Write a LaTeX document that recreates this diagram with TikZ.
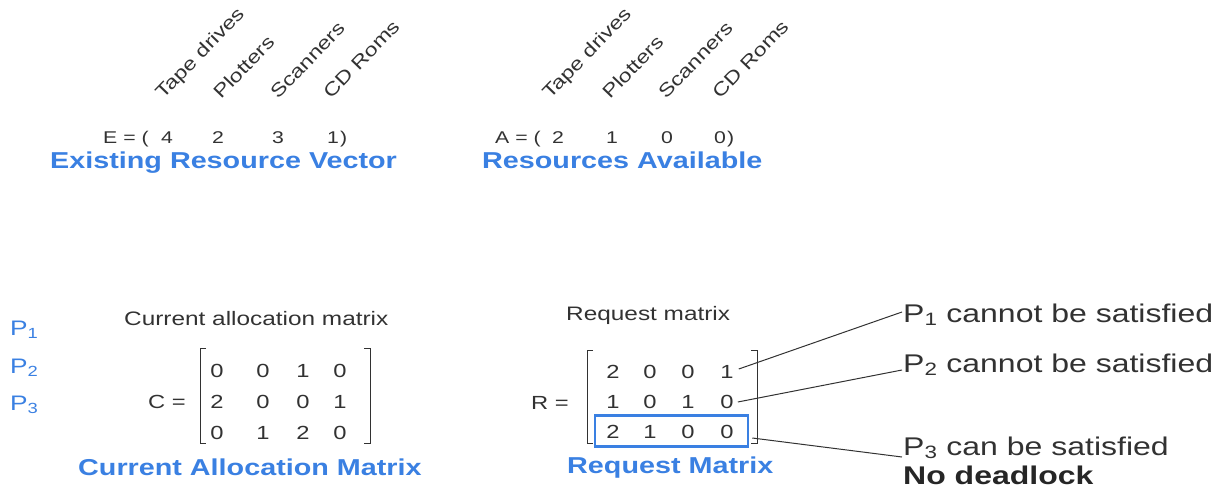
\documentclass[tikz,border=0pt]{standalone}
\usepackage{fontspec}
\setmainfont{Liberation Sans}[FakeStretch=1.25]
\usetikzlibrary{calc}
\definecolor{txtgray}{RGB}{50,50,50}
\definecolor{hiblue}{RGB}{58,128,226}
\newcommand{\fs}[1]{\fontsize{#1}{#1}\selectfont}
\tikzset{
  lbl/.style={inner sep=0pt, text=txtgray, font=\fs{18.5}, anchor=base west, rotate=46},
  vec/.style={inner sep=0pt, text=txtgray, font=\fs{17}, anchor=base},
  title/.style={inner sep=0pt, text=hiblue, font=\fs{23}\bfseries, anchor=base west},
  captxt/.style={inner sep=0pt, text=txtgray, font=\fs{19.5}, anchor=base west},
  ent/.style={inner sep=0pt, text=txtgray, font=\fs{19}, anchor=center},
  proc/.style={inner sep=0pt, text=hiblue, font=\fs{21}, anchor=base west},
  res/.style={inner sep=0pt, text=txtgray, font=\fs{25.6}, anchor=base west},
  brk/.style={draw=txtgray, line width=0.9pt},
  conn/.style={draw=txtgray, line width=1pt},
  hibox/.style={draw=hiblue, line width=2.6pt, minimum width=153pt, minimum height=31pt, inner sep=0pt}
}
\begin{document}
\begin{tikzpicture}[x=1pt,y=1pt]
\useasboundingbox (0,0) rectangle (1227,-498);
% ---------- Existing resource vector ----------
\node[lbl] (et) at (163,-100) {Tape drives};
\node[lbl] (ep) at (221,-100) {Plotters};
\node[lbl] (es) at (278,-100) {Scanners};
\node[lbl] (ec) at (331,-100) {CD Roms};
\node[vec, anchor=base west] (eeq) at (103,-143) {E = (};
\node[vec] (e1) at (167,-143) {4};
\node[vec] (e2) at (218,-143) {2};
\node[vec] (e3) at (278,-143) {3};
\node[vec] (e4) at (333,-143) {1};
\node[vec, anchor=base west] (eclose) at (340,-143) {)};
\node[title] (etitle) at (50,-168) {Existing Resource Vector};
% ---------- Resources available ----------
\node[lbl] (at) at (550,-100) {Tape drives};
\node[lbl] (ap) at (610,-100) {Plotters};
\node[lbl] (as) at (666,-100) {Scanners};
\node[lbl] (ac) at (720,-100) {CD Roms};
\node[vec, anchor=base west] (aeq) at (495,-143) {A = (};
\node[vec] (a1) at (558,-143) {2};
\node[vec] (a2) at (612,-143) {1};
\node[vec] (a3) at (667,-143) {0};
\node[vec] (a4) at (720,-143) {0};
\node[vec, anchor=base west] (aclose) at (727,-143) {)};
\node[title] (atitle) at (482,-168) {Resources Available};
% ---------- Processes ----------
\node[proc] (pp1) at (10,-335) {P\textsubscript{1}};
\node[proc] (pp2) at (10,-373) {P\textsubscript{2}};
\node[proc] (pp3) at (10,-410) {P\textsubscript{3}};
% ---------- Current allocation matrix ----------
\node[captxt] (ccap) at (124,-325) {Current allocation matrix};
\node[ent] (ceq) at (167,-402) {C =};
\draw[brk] (206,-348) -- (200,-348) -- (200,-443) -- (206,-443);
\draw[brk] (364,-348) -- (370,-348) -- (370,-443) -- (364,-443);
\node[ent] (c11) at (217,-371) {0};
\node[ent] (c12) at (263,-371) {0};
\node[ent] (c13) at (303,-371) {1};
\node[ent] (c14) at (340,-371) {0};
\node[ent] (c21) at (217,-402) {2};
\node[ent] (c22) at (263,-402) {0};
\node[ent] (c23) at (303,-402) {0};
\node[ent] (c24) at (340,-402) {1};
\node[ent] (c31) at (217,-433) {0};
\node[ent] (c32) at (263,-433) {1};
\node[ent] (c33) at (303,-433) {2};
\node[ent] (c34) at (340,-433) {0};
\node[title] (ctitle) at (78,-475) {Current Allocation Matrix};
% ---------- Request matrix ----------
\node[captxt] (rcap) at (566,-320) {Request matrix};
\node[ent] (req) at (550,-403) {R =};
\draw[brk] (593,-350) -- (587,-350) -- (587,-443) -- (593,-443);
\draw[brk] (751,-350) -- (757,-350) -- (757,-443) -- (751,-443);
\node[ent] (r11) at (613,-372) {2};
\node[ent] (r12) at (650,-372) {0};
\node[ent] (r13) at (688,-372) {0};
\node[ent] (r14) at (727,-372) {1};
\node[ent] (r21) at (613,-402) {1};
\node[ent] (r22) at (650,-402) {0};
\node[ent] (r23) at (688,-402) {1};
\node[ent] (r24) at (727,-402) {0};
\node[ent] (r31) at (613,-432) {2};
\node[ent] (r32) at (650,-432) {1};
\node[ent] (r33) at (688,-432) {0};
\node[ent] (r34) at (727,-432) {0};
\node[hibox] (box) at (671.5,-431) {};
\node[title] (rtitle) at (567,-473) {Request Matrix};
% ---------- Results ----------
\node[res] (s1) at (903,-322) {P\textsubscript{1} cannot be satisfied};
\node[res] (s2) at (903,-372) {P\textsubscript{2} cannot be satisfied};
\node[res] (s3) at (903,-455) {P\textsubscript{3} can be satisfied};
\node[res, font=\fs{25.6}\bfseries, text=black!85] (nd) at (903,-484) {No deadlock};
% ---------- Connectors ----------
\draw[conn] ($(r14.east)+(5,3)$) -- ($(s1.base west)+(-1,10)$);
\draw[conn] ($(r24.east)+(4,0)$) -- ($(s2.base west)+(-1,2)$);
\draw[conn] ($(box.east)+(3,-7)$) -- ($(s3.base west)+(-1,-2)$);
\end{tikzpicture}
\end{document}
